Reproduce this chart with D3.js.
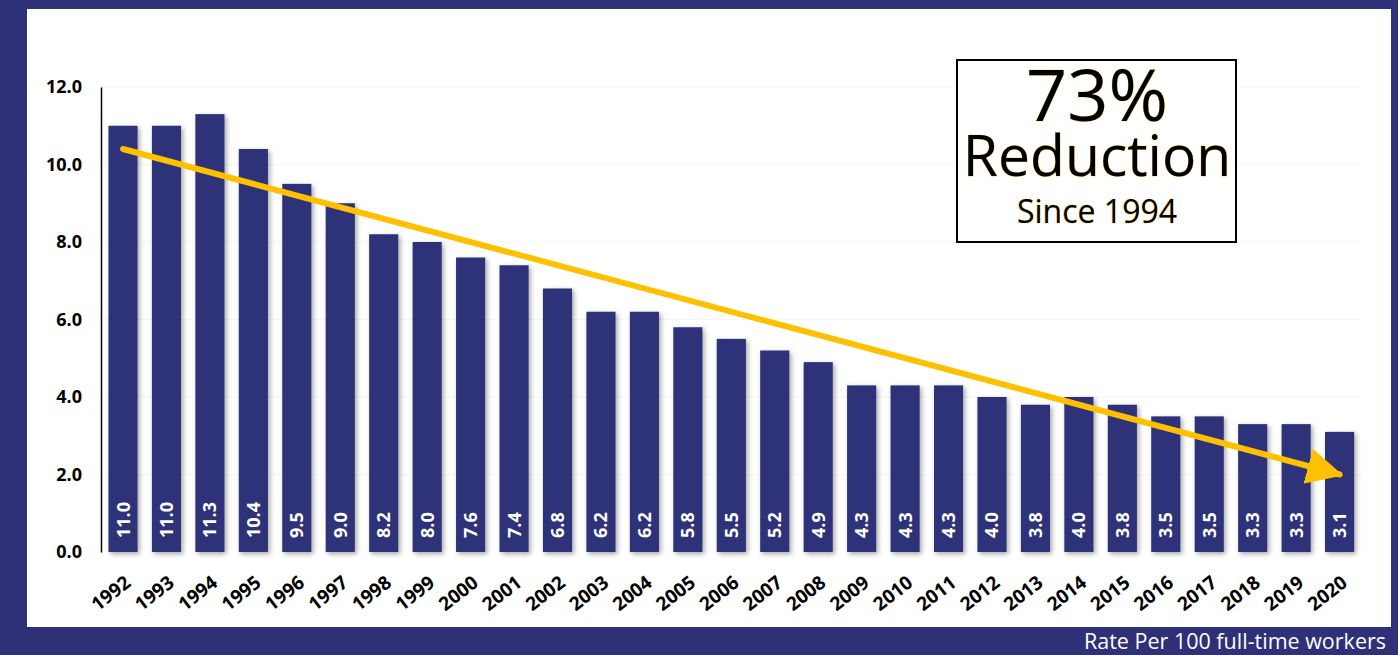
<!DOCTYPE html>
<html>
<head>
<meta charset="utf-8">
<script src="https://cdn.jsdelivr.net/npm/d3@7"></script>
<style>
  html, body { margin: 0; padding: 0; background: #2e3078; }
  svg { display: block; }
  text { font-family: "Open Sans", "Noto Sans", sans-serif; }
</style>
</head>
<body>
<svg id="chart" width="1398" height="655"></svg>
<script>
const years = ["1992","1993","1994","1995","1996","1997","1998","1999","2000","2001","2002","2003","2004","2005","2006","2007","2008","2009","2010","2011","2012","2013","2014","2015","2016","2017","2018","2019","2020"];
const rates = [11.0,11.0,11.3,10.4,9.5,9.0,8.2,8.0,7.6,7.4,6.8,6.2,6.2,5.8,5.5,5.2,4.9,4.3,4.3,4.3,4.0,3.8,4.0,3.8,3.5,3.5,3.3,3.3,3.1];
const yTicks = [0,2,4,6,8,10,12];
const trendStart = {year: "1992", value: 10.4};
const trendEnd = {year: "2020", value: 2.0};
const calloutLines = ["73%", "Reduction", "Since 1994"];
const footnote = "Rate Per 100 full-time workers";

const navy = "#2e3078";
const gold = "#ffc000";
const svg = d3.select("#chart");

const defs = svg.append("defs");
const f = defs.append("filter").attr("id","shadow").attr("x","-30%").attr("y","-5%").attr("width","160%").attr("height","110%");
f.append("feDropShadow").attr("dx",2).attr("dy",2).attr("stdDeviation",2.5).attr("flood-color","#000").attr("flood-opacity",0.35);

defs.append("marker").attr("id","arrowhead")
  .attr("viewBox","0 0 10 10").attr("refX",9).attr("refY",5)
  .attr("markerWidth",6).attr("markerHeight",6).attr("markerUnits","strokeWidth")
  .attr("orient","auto")
  .append("path").attr("d","M0,0 L10,5 L0,10 Z").attr("fill",gold);

// background + white panel
svg.append("rect").attr("width",1398).attr("height",655).attr("fill",navy);
svg.append("rect").attr("x",27).attr("y",9).attr("width",1364).attr("height",618).attr("fill","#fff");

const x = d3.scaleBand().domain(years).range([101.3, 1361.3]).paddingInner(0.33).paddingOuter(0.165);
const y = d3.scaleLinear().domain([0,12]).range([552, 87]);

// faint gridlines
svg.append("g").selectAll("line").data(yTicks.filter(d=>d>0)).join("line")
  .attr("x1",101).attr("x2",1361).attr("y1",d=>y(d)).attr("y2",d=>y(d))
  .attr("stroke","#f5f5f5").attr("stroke-width",1);

// bars
svg.append("g").selectAll("rect").data(years).join("rect")
  .attr("x",d=>x(d)).attr("width",x.bandwidth())
  .attr("y",(d,i)=>y(rates[i])).attr("height",(d,i)=>y(0)-y(rates[i]))
  .attr("fill",navy).attr("filter","url(#shadow)");

// value labels
svg.append("g").selectAll("text").data(years).join("text")
  .attr("transform",(d)=>`translate(${x(d)+x.bandwidth()/2+6.5},${y(0)-14}) rotate(-90)`)
  .attr("text-anchor","start")
  .attr("fill","#fff").attr("font-weight","bold").attr("font-size",18)
  .text((d,i)=>rates[i].toFixed(1));

// y axis
const yAxis = d3.axisLeft(y).tickValues(yTicks).tickFormat(d3.format(".1f")).tickSize(0).tickPadding(19);
const ga = svg.append("g").attr("transform","translate(101,0)").call(yAxis);
ga.select(".domain").attr("stroke","#000").attr("stroke-width",1.5);
ga.selectAll("text").attr("font-size",18).attr("font-weight","bold").attr("fill","#000")
  .attr("font-family","'Open Sans', sans-serif");

// x axis labels
const xAxis = d3.axisBottom(x).tickSize(0).tickPadding(0);
const gx = svg.append("g").attr("transform",`translate(0,${y(0)})`).call(xAxis);
gx.select(".domain").remove();
gx.selectAll("text")
  .attr("font-size",19).attr("font-weight","bold").attr("fill","#000")
  .attr("font-family","'Open Sans', sans-serif")
  .attr("text-anchor","end")
  .attr("dy",null)
  .attr("transform","translate(9,33) rotate(-38)");

// trend arrow
svg.append("line")
  .attr("x1",x(trendStart.year)+x.bandwidth()/2).attr("y1",y(trendStart.value))
  .attr("x2",x(trendEnd.year)+x.bandwidth()/2).attr("y2",y(trendEnd.value))
  .attr("stroke",gold).attr("stroke-width",6).attr("stroke-linecap","round")
  .attr("marker-end","url(#arrowhead)");

// callout box
svg.append("rect").attr("x",957).attr("y",60).attr("width",279).attr("height",182)
  .attr("fill","#fff").attr("stroke","#000").attr("stroke-width",2);
const cx = 1097;
const sizes = [72, 57, 32];
const baselines = [121, 176, 223];
svg.append("g").selectAll("text").data(calloutLines).join("text")
  .attr("x",cx).attr("y",(d,i)=>baselines[i])
  .attr("text-anchor","middle")
  .attr("font-size",(d,i)=>sizes[i])
  .attr("fill","#000").attr("stroke",gold).attr("stroke-width",0.6).attr("paint-order","stroke")
  .text(d=>d);

// footnote
svg.append("text").attr("x",1386).attr("y",649).attr("text-anchor","end")
  .attr("fill","#fff").attr("font-size",21.5).text(footnote);
</script>
</body>
</html>
